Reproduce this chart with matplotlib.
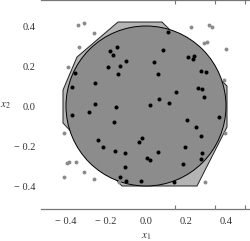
import matplotlib
matplotlib.use("Agg")
import matplotlib.pyplot as plt
from matplotlib.patches import Polygon, Circle

# points outside the disc (gray)
out_x = [-0.34, -0.31, -0.26, -0.335, -0.39, -0.41, -0.30, -0.395, -0.385, -0.35, -0.245, -0.31, -0.20,
         -0.41, -0.26, -0.135, 0.225, 0.315, 0.33, 0.29, 0.305, 0.40, 0.39, 0.395, 0.295]
out_y = [0.405, 0.415, 0.365, 0.295, 0.195, -0.135, -0.22, -0.285, -0.28, -0.28, -0.28, -0.33, -0.315,
         -0.355, -0.365, -0.38, 0.395, 0.405, 0.395, 0.315, 0.32, 0.285, 0.13, -0.135, -0.38]

# points inside the disc (black)
in_x = [-0.18, -0.145, -0.165, -0.19, -0.13, -0.14, -0.355, -0.255, -0.37, -0.255, -0.15, -0.285, -0.37,
        -0.16, -0.24, -0.215, -0.155, -0.105, -0.105, -0.13, -0.10, -0.025, 0.11, 0.085, 0.04, -0.10,
        0.06, 0.21, 0.24, 0.235, 0.275, 0.30, 0.26, 0.28, 0.15, 0.29, 0.065, 0.115, 0.02, 0.365, 0.205,
        0.25, 0.275, -0.02, -0.035, 0.195, 0.06, 0.005, 0.02, 0.28, 0.275, 0.185, 0.14]
in_y = [0.275, 0.295, 0.255, 0.195, 0.20, 0.16, 0.165, 0.115, 0.095, 0.01, -0.005, -0.03, -0.045,
        -0.08, -0.17, -0.205, -0.225, -0.235, -0.305, -0.355, -0.375, -0.375, 0.37, 0.28, 0.22, 0.225,
        0.16, 0.245, 0.25, 0.235, 0.175, 0.17, 0.09, 0.085, 0.07, 0.045, 0.035, 0.015, 0.005, -0.055, -0.07,
        -0.105, -0.15, -0.16, -0.18, -0.205, -0.23, -0.26, -0.27, -0.235, -0.265, -0.29, -0.38]

# outer polygon
poly_x = [-0.415, -0.345, -0.14, 0.08, 0.405, 0.405, 0.255, -0.12, -0.415]
poly_y = [0.08, 0.245, 0.42, 0.42, 0.10, -0.105, -0.40, -0.40, -0.085]
radius = 0.4

tick_vals = [-0.4, -0.2, 0.0, 0.2, 0.4]
tick_labels = ["\u2212 0.4", "\u2212 0.2", "0.0", "0.2", "0.4"]
minor_ticks = [0.145, 0.345, 0.495]

plt.rcParams["font.family"] = ["Liberation Serif", "DejaVu Serif"]
plt.rcParams["mathtext.fontset"] = "stix"

fig = plt.figure(figsize=(2.5, 2.41), dpi=100)
ax = fig.add_axes([41 / 250, 1 - 209 / 241, 209 / 250, 209 / 241])

ax.add_patch(Polygon(list(zip(poly_x, poly_y)), closed=True, facecolor="#b4b4b4",
                     edgecolor="#222222", linewidth=0.7, zorder=1))
ax.add_patch(Circle((0, 0), radius, facecolor="#8c8c8c", edgecolor="black", linewidth=0.7, zorder=2))
ax.plot(out_x, out_y, "o", color="#8a8a8a", markersize=2.8, markeredgewidth=0, zorder=3)
ax.plot(in_x, in_y, "o", color="black", markersize=2.9, markeredgewidth=0, zorder=4)

ax.set_xlim(-0.525, 0.52)
ax.set_ylim(-0.515, 0.53)

for s in ["left", "right"]:
    ax.spines[s].set_visible(False)
for s in ["top", "bottom"]:
    ax.spines[s].set_color("#777777")
    ax.spines[s].set_linewidth(0.9)

ax.set_xticks(tick_vals)
ax.set_xticklabels(tick_labels)
ax.set_yticks(tick_vals)
ax.set_yticklabels(tick_labels)
ax.set_xticks(minor_ticks, minor=True)
ax.tick_params(axis="both", which="major", length=0, labelsize=7.5, colors="#333333")
ax.tick_params(axis="x", which="major", pad=6)
ax.tick_params(axis="y", which="major", pad=4)
ax.tick_params(axis="x", which="minor", direction="in", length=3, width=0.8,
               color="#777777", top=True, bottom=True)

fig.text(146 / 250, 1 - 237 / 241, "$x_1$", ha="center", va="center", fontsize=8, color="#333333")
fig.text(5 / 250, 1 - 106 / 241, "$x_2$", ha="center", va="center", fontsize=8, color="#333333")

fig.savefig("out.png", dpi=100)
